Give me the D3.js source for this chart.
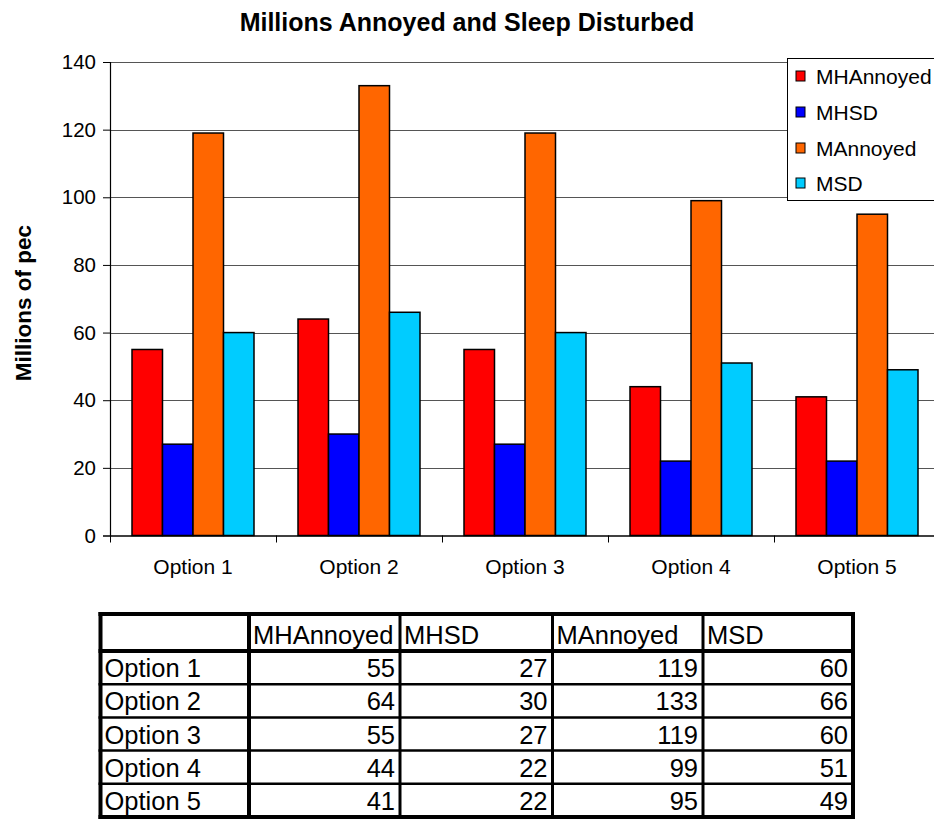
<!DOCTYPE html>
<html>
<head>
<meta charset="utf-8">
<script src="https://cdn.jsdelivr.net/npm/d3@7"></script>
<style>
  html, body { margin: 0; padding: 0; background: #fff; }
  svg { display: block; font-family: "Liberation Sans", Arial, sans-serif; }
</style>
</head>
<body>
<svg id="chart" width="934" height="819"></svg>
<script>
// ---- data ----
const categories = ["Option 1", "Option 2", "Option 3", "Option 4", "Option 5"];
const seriesNames = ["MHAnnoyed", "MHSD", "MAnnoyed", "MSD"];
const MHAnnoyed = [55, 64, 55, 44, 41];
const MHSD = [27, 30, 27, 22, 22];
const MAnnoyed = [119, 133, 119, 99, 95];
const MSD = [60, 66, 60, 51, 49];
const seriesColors = ["#FF0000", "#0000FF", "#FF6600", "#00CCFF"];
const yTicks = [0, 20, 40, 60, 80, 100, 120, 140];
const titleText = "Millions Annoyed and Sleep Disturbed";
const yLabelText = "Millions of pec";

const seriesValues = [MHAnnoyed, MHSD, MAnnoyed, MSD];

const svg = d3.select("#chart");

// ---- scales ----
const plotLeft = 110, plotRight = 940, plotTop = 62, plotBottom = 535.5;
const y = d3.scaleLinear().domain([0, 140]).range([plotBottom, plotTop]);
const x = d3.scaleBand().domain(categories).range([plotLeft, plotRight]).padding(0);
const groupPad = 22;
const xs = d3.scaleBand().domain(seriesNames).range([groupPad, x.bandwidth() - groupPad]).padding(0);

// ---- gridlines ----
svg.append("g")
  .selectAll("line")
  .data(yTicks.filter(d => d > 0))
  .join("line")
  .attr("x1", plotLeft).attr("x2", 934)
  .attr("y1", d => Math.round(y(d)) + 0.5).attr("y2", d => Math.round(y(d)) + 0.5)
  .attr("stroke", "#555").attr("stroke-width", 1);

// ---- bars ----
const barData = [];
categories.forEach((c, i) => {
  seriesNames.forEach((s, j) => {
    barData.push({ cat: c, series: s, value: seriesValues[j][i], color: seriesColors[j] });
  });
});
svg.append("g")
  .selectAll("rect")
  .data(barData)
  .join("rect")
  .attr("x", d => x(d.cat) + xs(d.series))
  .attr("y", d => y(d.value))
  .attr("width", xs.bandwidth())
  .attr("height", d => plotBottom - y(d.value))
  .attr("fill", d => d.color)
  .attr("stroke", "#000")
  .attr("stroke-width", 1.5);

// ---- y axis ----
const yAxis = d3.axisLeft(y).tickValues(yTicks).tickSize(7).tickPadding(7);
const gy = svg.append("g").attr("transform", `translate(${plotLeft},0)`).call(yAxis);
gy.attr("font-size", null).attr("font-family", null);
gy.select(".domain").attr("stroke", "#000").attr("stroke-width", 1.2);
gy.selectAll(".tick line").attr("stroke", "#000");
gy.selectAll(".tick text").style("font-size", "20.5px").attr("fill", "#000");

// ---- x axis ----
const xAxis = d3.axisBottom(x).tickSize(0).tickPadding(0);
const gx = svg.append("g").attr("transform", `translate(0,${plotBottom})`).call(xAxis);
gx.attr("font-size", null).attr("font-family", null);
gx.select(".domain").attr("stroke", "#000").attr("stroke-width", 1.5);
gx.selectAll(".tick text").style("font-size", "21px").attr("fill", "#000")
  .attr("dy", null).attr("y", 38);
// category boundary ticks
svg.append("g")
  .selectAll("line")
  .data(categories)
  .join("line")
  .attr("x1", d => Math.round(x(d)) + 0.5).attr("x2", d => Math.round(x(d)) + 0.5)
  .attr("y1", plotBottom).attr("y2", plotBottom + 7)
  .attr("stroke", "#000").attr("stroke-width", 1);

// ---- title ----
svg.append("text")
  .attr("x", 467).attr("y", 31)
  .attr("text-anchor", "middle")
  .attr("font-size", 25).attr("font-weight", "bold")
  .text(titleText);

// ---- y label ----
svg.append("text")
  .attr("transform", "translate(31,303) rotate(-90)")
  .attr("text-anchor", "middle")
  .attr("font-size", 22.5).attr("font-weight", "bold")
  .text(yLabelText);

// ---- legend ----
const legend = svg.append("g");
legend.append("rect")
  .attr("x", 787.5).attr("y", 58.5).attr("width", 160).attr("height", 142)
  .attr("fill", "#fff").attr("stroke", "#000").attr("stroke-width", 1);
const legendRows = [76, 112, 148, 183];
const lg = legend.selectAll("g.item").data(seriesNames).join("g").attr("class", "item")
  .attr("transform", (d, i) => `translate(0,${legendRows[i]})`);
lg.append("rect")
  .attr("x", 796).attr("y", -5).attr("width", 9).attr("height", 10)
  .attr("fill", (d, i) => seriesColors[i]).attr("stroke", "#000").attr("stroke-width", 1);
lg.append("text")
  .attr("x", 816).attr("y", 7.5)
  .attr("font-size", 21)
  .text(d => d);

// ---- data table ----
const colEdges = [100.5, 249, 400, 552.5, 703, 853];
const rowEdges = [614, 651, 684.2, 717.4, 750.6, 783.8, 817];
const table = svg.append("g");
const tableRows = [["", ...seriesNames]].concat(
  categories.map((c, i) => [c, ...seriesValues.map(v => v[i])])
);
tableRows.forEach((row, r) => {
  row.forEach((cell, c) => {
    const isNum = typeof cell === "number";
    table.append("text")
      .attr("x", isNum ? colEdges[c + 1] - 5 : colEdges[c] + 4)
      .attr("y", rowEdges[r + 1] - 7)
      .attr("text-anchor", isNum ? "end" : "start")
      .attr("font-size", 25.5)
      .text(cell);
  });
});
// horizontal lines
rowEdges.forEach((yy, i) => {
  const w = (i === 0 || i === 1 || i === rowEdges.length - 1) ? 4 : 2.5;
  table.append("line")
    .attr("x1", colEdges[0] - 2).attr("x2", colEdges[colEdges.length - 1] + 2)
    .attr("y1", yy).attr("y2", yy)
    .attr("stroke", "#000").attr("stroke-width", w);
});
// vertical lines
colEdges.forEach((xx, i) => {
  const w = (i === 0 || i === 1 || i === colEdges.length - 1) ? 4 : 3;
  table.append("line")
    .attr("x1", xx).attr("x2", xx)
    .attr("y1", rowEdges[0] - 2).attr("y2", rowEdges[rowEdges.length - 1] + 2)
    .attr("stroke", "#000").attr("stroke-width", w);
});
</script>
</body>
</html>
